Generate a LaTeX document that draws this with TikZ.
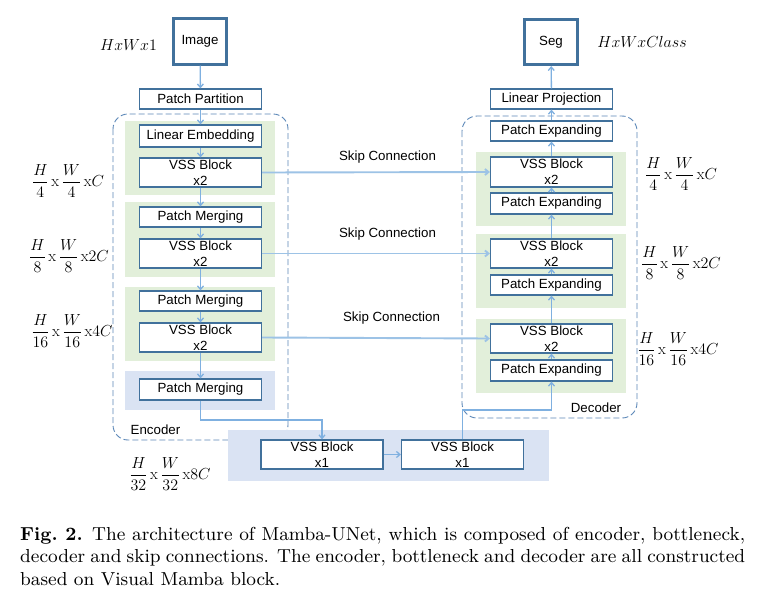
\RequirePackage{fix-cm}
\documentclass[tikz,border=0pt]{standalone}
\usepackage{fontspec}
\setsansfont{Liberation Sans}
\newfontfamily\capfont[BoldFont=lmroman9-bold.otf]{lmroman9-regular.otf}
\usetikzlibrary{arrows.meta}
\definecolor{boxc}{HTML}{41719C}
\definecolor{arrc}{HTML}{7FB0E0}
\definecolor{skipc}{HTML}{9DC3E6}
\definecolor{greenb}{HTML}{E2EFDA}
\definecolor{blueb}{HTML}{DAE3F3}
\definecolor{dashc}{HTML}{5B87B8}
\begin{document}
\begin{tikzpicture}[x=1pt,y=-1pt,
  box/.style={draw=boxc, line width=1.2pt, fill=white, inner sep=0pt,
    font=\sffamily\fontsize{13.3}{16}\selectfont, align=center,
    minimum width=122pt, minimum height=20pt},
  tallbox/.style={box, minimum height=29pt},
  bigbox/.style={draw=boxc, line width=2.6pt, fill=white, inner sep=0pt,
    font=\sffamily\fontsize{13.3}{16}\selectfont,
    minimum width=53.5pt, minimum height=45.5pt},
  arr/.style={draw=arrc, line width=1.3pt, -{Straight Barb[length=3.5pt,width=6pt]}},
  skip/.style={draw=skipc, line width=1.9pt, -{Straight Barb[length=3.5pt,width=6pt]}},
  dashbox/.style={draw=dashc, line width=0.9pt, dash pattern=on 6pt off 3pt, rounded corners=15pt},
  lab/.style={font=\sffamily\fontsize{13.3}{16}\selectfont, inner sep=0pt},
  dim/.style={font=\fontsize{16}{19}\selectfont, inner sep=0pt},
  gband/.style={fill=greenb, draw=none},
  bband/.style={fill=blueb, draw=none}
]
\useasboundingbox (0,0) rectangle (766,613);
\fill[white] (0,0) rectangle (766,613);

% dashed containers
\draw[dashbox] (113,114) rectangle (288,440);
\draw[dashbox] (462,116) rectangle (637,418);

% bands
\fill[gband] (125,121) rectangle (275,195);
\fill[gband] (125,202) rectangle (275,277);
\fill[gband] (125,287) rectangle (275,361);
\fill[bband] (125,371) rectangle (275,410);
\fill[bband] (228,430) rectangle (549,481);
\fill[gband] (476,152) rectangle (626,226);
\fill[gband] (476,234) rectangle (626,308);
\fill[gband] (476,319) rectangle (626,393);

% encoder nodes
\node[bigbox] (img) at (200,41.5) {Image};
\node[box] (pp) at (200.5,99) {Patch Partition};
\node[box, minimum height=22pt] (le) at (200.5,136) {Linear Embedding};
\node[tallbox] (v1) at (200.5,172.5) {VSS Block\\x2};
\node[box] (pm1) at (200.5,217) {Patch Merging};
\node[tallbox] (v2) at (200.5,253.5) {VSS Block\\x2};
\node[box] (pm2) at (200.5,301) {Patch Merging};
\node[tallbox] (v3) at (200.5,337.5) {VSS Block\\x2};
\node[box, minimum height=21pt] (pm3) at (200.5,389.5) {Patch Merging};

% bottleneck
\node[tallbox] (bn1) at (322,454.5) {VSS Block\\x1};
\node[tallbox] (bn2) at (462.5,454.5) {VSS Block\\x1};

% decoder nodes
\node[bigbox] (seg) at (551,42) {Seg};
\node[box] (lp) at (551.5,99) {Linear Projection};
\node[box] (pe0) at (551.5,131) {Patch Expanding};
\node[tallbox, minimum height=30pt] (d1) at (551.5,172) {VSS Block\\x2};
\node[box, minimum height=21pt] (pe1) at (551.5,203.5) {Patch Expanding};
\node[tallbox] (d2) at (551.5,253.5) {VSS Block\\x2};
\node[box] (pe2) at (551.5,285) {Patch Expanding};
\node[tallbox] (d3) at (551.5,338.5) {VSS Block\\x2};
\node[box, minimum height=21pt] (pe3) at (551.5,370.5) {Patch Expanding};

% junction coordinates
\coordinate (jA) at (322,420);
\coordinate (jB) at (551.5,410);

% encoder arrows
\draw[arr] (img) -- (pp);
\draw[arr] (pp) -- (le);
\draw[arr] (le) -- (v1);
\draw[arr] (v1) -- (pm1);
\draw[arr] (pm1) -- (v2);
\draw[arr] (v2) -- (pm2);
\draw[arr] (pm2) -- (v3);
\draw[arr] (v3) -- (pm3);
\draw[arr] (pm3.south) |- (jA) -- (bn1.north);
\draw[arr] (bn1) -- (bn2);
\draw[arr] (bn2.north) |- (jB) -- (pe3.south);

% decoder arrows
\draw[arr] (pe3) -- (d3);
\draw[arr] (d3) -- (pe2);
\draw[arr] (pe2) -- (d2);
\draw[arr] (d2) -- (pe1);
\draw[arr] (pe1) -- (d1);
\draw[arr] (d1) -- (pe0);
\draw[arr] (pe0) -- (lp);
\draw[arr] (lp) -- (seg);

% skip connections
\draw[skip] (v1.east) -- (d1.west);
\draw[skip] (v2.east) -- (d2.west);
\draw[skip] (v3.east) -- (d3.west);
\node[lab] (s1) at (387.5,157) {Skip Connection};
\node[lab] (s2) at (387.5,234) {Skip Connection};
\node[lab] (s3) at (391.5,318) {Skip Connection};

\node[lab] (enc) at (155.5,430) {Encoder};
\node[lab] (dec) at (596,408) {Decoder};

% dimension labels
\node[dim] (t1) at (128.5,45) {$HxWx1$};
\node[dim] (t2) at (642,42) {$HxWxClass$};
\node[dim] (l1) at (68,181) {$\displaystyle\frac{H}{4}\,\mathrm{x}\,\frac{W}{4}\,\mathrm{x}C$};
\node[dim] (l2) at (69,256) {$\displaystyle\frac{H}{8}\,\mathrm{x}\,\frac{W}{8}\,\mathrm{x}2C$};
\node[dim] (l3) at (72,331) {$\displaystyle\frac{H}{16}\,\mathrm{x}\,\frac{W}{16}\,\mathrm{x}4C$};
\node[dim] (l4) at (170,474) {$\displaystyle\frac{H}{32}\,\mathrm{x}\,\frac{W}{32}\,\mathrm{x}8C$};
\node[dim] (r1) at (681,174) {$\displaystyle\frac{H}{4}\,\mathrm{x}\,\frac{W}{4}\,\mathrm{x}C$};
\node[dim] (r2) at (681,263) {$\displaystyle\frac{H}{8}\,\mathrm{x}\,\frac{W}{8}\,\mathrm{x}2C$};
\node[dim] (r3) at (678,349) {$\displaystyle\frac{H}{16}\,\mathrm{x}\,\frac{W}{16}\,\mathrm{x}4C$};

% caption
\node[anchor=north west, inner sep=0pt, text width=725pt, align=justify,
      font=\capfont\fontsize{18.8}{22.5}\selectfont] (cap) at (20,527)
 {\textbf{Fig.~2.} The architecture of Mamba-UNet, which is composed of encoder, bottleneck,\linebreak
  decoder and skip connections. The encoder, bottleneck and decoder are all constructed\linebreak
  based on Visual Mamba block.};
\end{tikzpicture}
\end{document}
